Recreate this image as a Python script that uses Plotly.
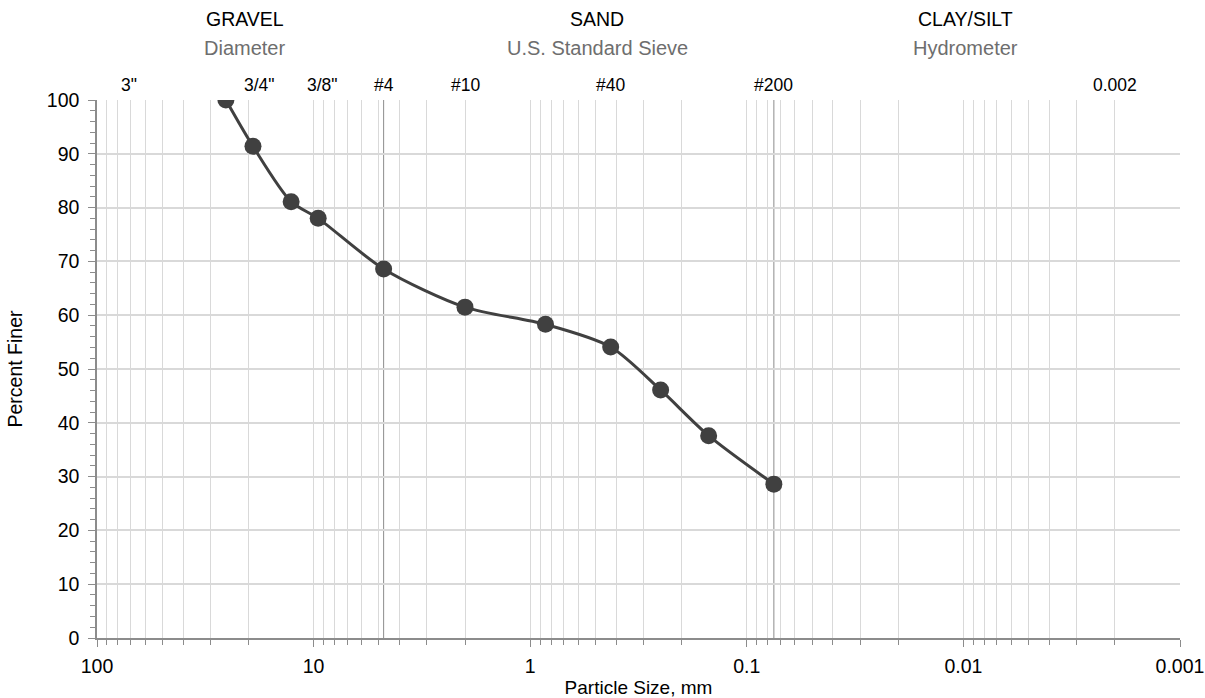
import math
import plotly.graph_objects as go

# Sieve analysis results
particle_size_mm = [25.4, 19.05, 12.7, 9.525, 4.75, 2.0, 0.85, 0.425, 0.25, 0.15, 0.075]
percent_finer = [100.0, 91.4, 81.1, 78.0, 68.6, 61.5, 58.3, 54.1, 46.1, 37.6, 28.6]

# Reference sizes labelled along the top of the plot
ref_sizes_mm = [76.2, 19.05, 9.525, 4.75, 2.0, 0.425, 0.075, 0.002]
ref_labels = ['3"', '3/4"', '3/8"', '#4', '#10', '#40', '#200', '0.002']

# Soil classes and how they are measured
class_names = ["GRAVEL", "SAND", "CLAY/SILT"]
class_methods = ["Diameter", "U.S. Standard Sieve", "Hydrometer"]

major_x = [100, 10, 1, 0.1, 0.01, 0.001]
major_x_text = ["100", "10", "1", "0.1", "0.01", "0.001"]
minor_x = [m * d for d in [10, 1, 0.1, 0.01, 0.001] for m in range(2, 10)]

FONT = "Liberation Sans, Arial, sans-serif"
DARK = "#404040"
GRID = "#d9d9d9"
AXIS = "#8c8c8c"

fig = go.Figure()
fig.add_trace(go.Scatter(
    x=particle_size_mm, y=percent_finer,
    mode="lines+markers",
    line=dict(color=DARK, width=3, shape="spline", smoothing=0.8),
    marker=dict(color=DARK, size=17),
    showlegend=False,
))

# Darker reference lines at the #4 and #200 sieves
for s in (4.75, 0.075):
    fig.add_shape(type="line", xref="x", yref="paper", x0=s, x1=s, y0=0, y1=1,
                  line=dict(color="#8c8c8c", width=1), layer="below")

# Sieve labels above the plot area (annotation x is log10 on a log axis)
label_shift = {'3"': 6, '3/4"': 7, '3/8"': 4}
for s, lab in zip(ref_sizes_mm, ref_labels):
    fig.add_annotation(x=math.log10(s), xref="x", y=1.0, yref="paper",
                       xanchor="center", yanchor="middle", yshift=15.5,
                       text=lab, showarrow=False, xshift=label_shift.get(lab, 0),
                       font=dict(family=FONT, size=17.5, color="#000000"))

# Class headings
class_pos = [0.1362, 0.4617, 0.8024]
for px, name, meth in zip(class_pos, class_names, class_methods):
    fig.add_annotation(x=px, xref="paper", y=1.0, yref="paper",
                       xanchor="center", yanchor="middle", yshift=81,
                       text=name, showarrow=False,
                       font=dict(family=FONT, size=19.5, color="#000000"))
    fig.add_annotation(x=px, xref="paper", y=1.0, yref="paper",
                       xanchor="center", yanchor="middle", yshift=52.5,
                       text=meth, showarrow=False,
                       font=dict(family=FONT, size=20, color="#6e6e6e"))

fig.update_layout(
    width=1205, height=698,
    margin=dict(l=97, r=25, t=100, b=60),
    paper_bgcolor="white", plot_bgcolor="white",
    font=dict(family=FONT, size=19.5, color="#000000"),
    xaxis=dict(
        type="log", range=[2, -3], automargin=False,
        tickmode="array", tickvals=major_x, ticktext=major_x_text,
        showgrid=True, gridcolor=GRID, gridwidth=1,
        ticks="outside", ticklen=7, tickcolor=AXIS,
        showline=True, linecolor=AXIS, linewidth=1.5,
        zeroline=False, ticklabelstandoff=3,
        minor=dict(tickvals=minor_x, showgrid=True, gridcolor=GRID, gridwidth=1,
                   ticks="outside", ticklen=5, tickcolor=AXIS),
        title=dict(text="Particle Size, mm", standoff=6,
                   font=dict(family=FONT, size=19)),
        tickfont=dict(size=19.5),
    ),
    yaxis=dict(
        range=[0, 100], tickmode="linear", tick0=0, dtick=10, automargin=False,
        showgrid=True, gridcolor=GRID, gridwidth=1.5,
        ticks="outside", ticklen=7, tickcolor=AXIS,
        showline=True, linecolor=AXIS, linewidth=1.5,
        zeroline=False, ticklabelstandoff=5,
        minor=dict(dtick=2, ticks="outside", ticklen=5, tickcolor=AXIS, showgrid=False),
        title=dict(text="Percent Finer", standoff=19,
                   font=dict(family=FONT, size=19.5)),
        tickfont=dict(size=19.5),
    ),
)

fig.write_html("out.html")
